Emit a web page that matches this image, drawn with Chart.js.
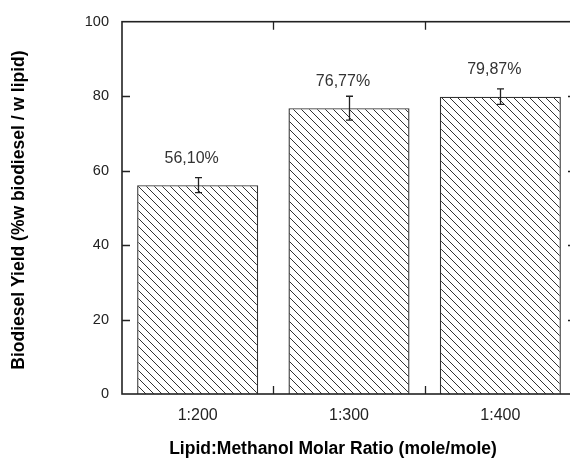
<!DOCTYPE html>
<html>
<head>
<meta charset="utf-8">
<script src="https://cdn.jsdelivr.net/npm/chart.js@4/dist/chart.umd.min.js"></script>
<style>
  html, body { margin: 0; padding: 0; background: #fff; overflow: hidden; }
  #wrap { width: 580px; height: 459px; }
</style>
</head>
<body>
<div id="wrap"><canvas id="c" width="580" height="459"></canvas></div>
<script>
// Lipid:methanol molar ratios and the measured biodiesel yields
const ratios = ['1:200', '1:300', '1:400'];
const yieldPct = [56.10, 76.77, 79.87];
const yieldErr = [2.0, 3.2, 2.1];
const valueLabels = ['56,10%', '76,77%', '79,87%'];
const yTicks = [0, 20, 40, 60, 80, 100];

const xTitle = 'Lipid:Methanol Molar Ratio (mole/mole)';
const yTitle = 'Biodiesel Yield (%w biodiesel / w lipid)';

const FONT = '"Liberation Sans", Arial, sans-serif';

// Diagonal "\\\" hatch used to fill the bars
function makeHatch() {
  const s = 8;
  const t = document.createElement('canvas');
  t.width = s; t.height = s;
  const g = t.getContext('2d');
  g.fillStyle = '#fff';
  g.fillRect(0, 0, s, s);
  g.strokeStyle = '#333';
  g.lineWidth = 1;
  g.beginPath();
  g.moveTo(-1, -1); g.lineTo(s + 1, s + 1);
  g.moveTo(-1, s - 1); g.lineTo(1, s + 1);
  g.moveTo(s - 1, -1); g.lineTo(s + 1, 1);
  g.stroke();
  return g.createPattern(t, 'repeat');
}

const ctx = document.getElementById('c').getContext('2d');
const hatch = makeHatch();

// Frame, inward tick marks on all four sides, error bars, value labels and axis titles
const decorations = {
  id: 'decorations',
  afterDatasetsDraw(chart) {
    const c = chart.ctx;
    const a = chart.chartArea;
    const x = chart.scales.x;
    const y = chart.scales.y;
    const meta = chart.getDatasetMeta(0);
    c.save();

    // error bars
    c.strokeStyle = '#222';
    c.lineWidth = 1.3;
    meta.data.forEach((bar, i) => {
      const hi = y.getPixelForValue(yieldPct[i] + yieldErr[i]);
      const lo = y.getPixelForValue(yieldPct[i] - yieldErr[i]);
      const cx = Math.round(bar.x) + 0.5;
      c.beginPath();
      c.moveTo(cx, hi); c.lineTo(cx, lo);
      c.moveTo(cx - 3.5, hi); c.lineTo(cx + 3.5, hi);
      c.moveTo(cx - 3.5, lo); c.lineTo(cx + 3.5, lo);
      c.stroke();
    });

    // frame
    c.strokeStyle = '#222';
    c.lineWidth = 1.6;
    c.strokeRect(a.left, a.top, a.right - a.left, a.bottom - a.top);

    // ticks
    c.lineWidth = 1.3;
    c.beginPath();
    yTicks.forEach(v => {
      if (v === 0 || v === 100) return;
      const py = Math.round(y.getPixelForValue(v)) + 0.5;
      c.moveTo(a.left, py); c.lineTo(a.left + 8, py);
      c.moveTo(a.right, py); c.lineTo(a.right - 8, py);
    });
    for (let i = 1; i < ratios.length; i++) {
      const px = Math.round((x.getPixelForValue(i - 1) + x.getPixelForValue(i)) / 2) + 0.5;
      c.moveTo(px, a.top); c.lineTo(px, a.top + 8);
      c.moveTo(px, a.bottom); c.lineTo(px, a.bottom - 8);
    }
    c.stroke();

    // value labels above each bar
    c.fillStyle = '#333';
    c.font = '16px ' + FONT;
    c.textAlign = 'center';
    c.textBaseline = 'middle';
    meta.data.forEach((bar, i) => {
      c.fillText(valueLabels[i], bar.x - 6, y.getPixelForValue(yieldPct[i]) - 27);
    });

    // axis titles
    c.fillStyle = '#000';
    c.font = 'bold 17.5px ' + FONT;
    c.fillText(xTitle, 333, 449);
    c.translate(19, 210);
    c.rotate(-Math.PI / 2);
    c.fillText(yTitle, 0, 0);
    c.restore();
  }
};

new Chart(ctx, {
  type: 'bar',
  data: {
    labels: ratios,
    datasets: [{
      data: yieldPct,
      backgroundColor: hatch,
      borderColor: '#333',
      borderWidth: 1.4,
      barPercentage: 0.8,
      categoryPercentage: 1.0
    }]
  },
  options: {
    responsive: false,
    animation: false,
    events: [],
    layout: { padding: { left: 0, right: 4, top: 18, bottom: 0 } },
    plugins: {
      legend: { display: false },
      tooltip: { enabled: false }
    },
    scales: {
      x: {
        grid: { display: false, drawTicks: false },
        border: { display: false },
        ticks: {
          color: '#222',
          padding: 12,
          font: { family: FONT, size: 16 }
        },
        afterFit(scale) { scale.height = 65; }
      },
      y: {
        min: 0,
        max: 100,
        grid: { display: false, drawTicks: false },
        border: { display: false },
        afterBuildTicks(scale) { scale.ticks = yTicks.map(v => ({ value: v })); },
        ticks: {
          color: '#222',
          padding: 13,
          font: { family: FONT, size: 14.5 }
        },
        afterFit(scale) { scale.width = 122; }
      }
    }
  },
  plugins: [decorations]
});
</script>
</body>
</html>
